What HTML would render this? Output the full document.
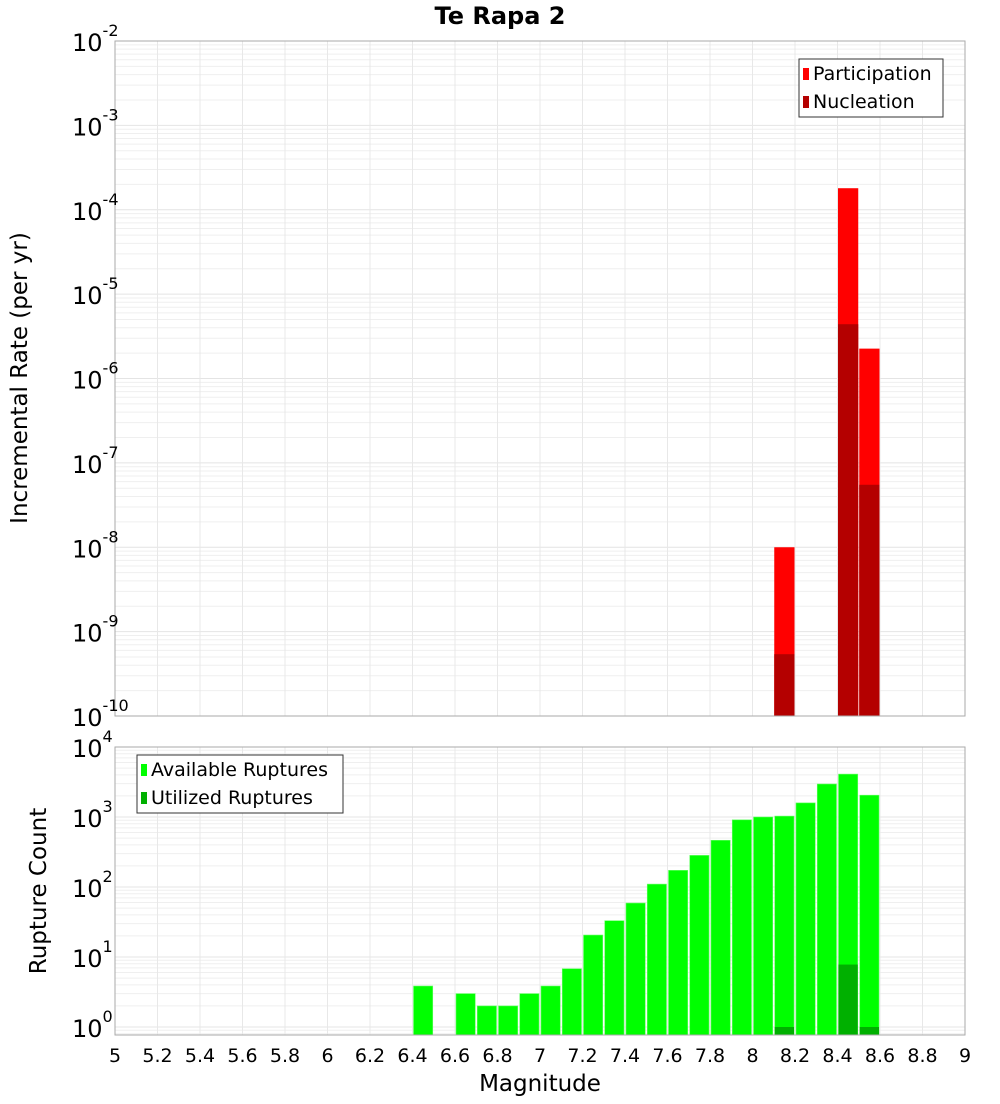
<!DOCTYPE html>
<html><head><meta charset="utf-8"><style>
body{margin:0;background:#fff;font-family:"DejaVu Sans","Liberation Sans",sans-serif}
svg text{font-family:"DejaVu Sans","Liberation Sans",sans-serif}
</style></head><body>
<svg id="c" width="1000" height="1100" xmlns="http://www.w3.org/2000/svg"></svg>
<script>
const binCenters=[8.15,8.45,8.55];
const participation=[1e-8,1.8e-4,2.26e-6];
const nucleation=[5.4e-10,4.4e-6,5.5e-8];
const countBins=[6.45,6.65,6.75,6.85,6.95,7.05,7.15,7.25,7.35,7.45,7.55,7.65,7.75,7.85,7.95,8.05,8.15,8.25,8.35,8.45,8.55];
const available=[3.85,3,2,2,3,3.85,6.8,20.6,33,59,110,173,283,465,911,1000,1030,1590,2960,4100,2050];
const utilBins=[8.15,8.45,8.55];
const utilized=[1,7.8,1];
const xTicks=[5,5.2,5.4,5.6,5.8,6,6.2,6.4,6.6,6.8,7,7.2,7.4,7.6,7.8,8,8.2,8.4,8.6,8.8,9];
const topExp=[-2,-3,-4,-5,-6,-7,-8,-9,-10];
const botExp=[0,1,2,3,4];

const S=document.getElementById('c'),NS='http://www.w3.org/2000/svg';
function el(t,a,p){const e=document.createElementNS(NS,t);for(const k in a)e.setAttribute(k,a[k]);(p||S).appendChild(e);return e;}
const L=115,R=965;
const X=m=>L+(m-5)/4*(R-L);
const T0=41,T1=716,yT=v=>T0+(-2-Math.log10(v))*(T1-T0)/8;
const B0=747,B1=1035,yB=v=>1027-Math.log10(v)*70;
const bw=(R-L)/40;

function grid(top,bot,yf,lo,hi,name){
  const g=el('g',{});
  for(let e=lo;e<hi;e++)for(let k=1;k<10;k++){const y=yf(k*Math.pow(10,e));if(y>=top-0.5&&y<=bot)el('line',{x1:L,x2:R,y1:y,y2:y,stroke:k==1?'#e4e4e4':'#efefef','stroke-width':1},g);}
  xTicks.forEach(t=>{const x=X(t);el('line',{x1:x,x2:x,y1:top,y2:bot,stroke:'#e8e8e8'},g);});
}
grid(T0,T1,yT,-10,-1,'top-grid');
grid(B0,B1,yB,-1,4,'bottom-grid');

binCenters.forEach((m,i)=>{
  let r=el('rect',{x:X(m)-bw/2+0.5,y:yT(participation[i]),width:bw-1,height:T1-yT(participation[i]),fill:'#ff0000'});
  
  r=el('rect',{x:X(m)-bw/2+0.5,y:yT(nucleation[i]),width:bw-1,height:T1-yT(nucleation[i]),fill:'#b40000'});
  
});
countBins.forEach((m,i)=>{
  const y=yB(available[i]);
  const r=el('rect',{x:X(m)-bw/2+1,y:y,width:bw-2,height:B1-y,fill:'#00ff00',stroke:'#66ff66','stroke-width':0.6});
  
});
utilBins.forEach((m,i)=>{
  const y=yB(utilized[i]);
  const r=el('rect',{x:X(m)-bw/2+1,y:y,width:bw-2,height:B1-y,fill:'#00b000'});
  
});
let f=el('rect',{x:L,y:T0,width:R-L,height:T1-T0,fill:'none',stroke:'#aaa'});
f=el('rect',{x:L,y:B0,width:R-L,height:B1-B0,fill:'none',stroke:'#aaa'});

function ylab(e,y,name){
  const t=el('text',{x:72,y:y+10,'text-anchor':'start','font-size':24,fill:'#000'});
  
  t.textContent='10';
  const s=el('tspan',{dy:-15,'font-size':16});s.textContent=String(e);t.appendChild(s);
}
topExp.forEach(e=>ylab(e,yT(Math.pow(10,e)),'top-y-tick'));
botExp.forEach(e=>ylab(e,yB(Math.pow(10,e)),'bottom-y-tick'));
xTicks.forEach(t=>{const x=el('text',{x:X(t),y:1062,'text-anchor':'middle','font-size':19});x.textContent=String(t);});

function txt(s,a,name){const t=el('text',a);t.textContent=s;return t;}
txt('Te Rapa 2',{x:500,y:24,'text-anchor':'middle','font-size':24,'font-weight':'bold'},'chart-title');
txt('Magnitude',{x:540,y:1091,'text-anchor':'middle','font-size':23},'x-axis-title');
txt('Incremental Rate (per yr)',{x:0,y:0,'text-anchor':'middle','font-size':23,transform:'translate(27,378) rotate(-90)'},'top-y-axis-title');
txt('Rupture Count',{x:0,y:0,'text-anchor':'middle','font-size':23,transform:'translate(46,891) rotate(-90)'},'bottom-y-axis-title');

function legend(x,y,w,items,name){
  const g=el('g',{});
  el('rect',{x:x,y:y,width:w,height:58,fill:'#fff',stroke:'#333'},g);
  items.forEach((it,i)=>{
    el('rect',{x:x+4,y:y+9+i*28,width:6,height:12,fill:it[1]},g);
    const t=el('text',{x:x+14,y:y+21+i*28,'font-size':19},g);t.textContent=it[0];
  });
}
legend(799,59,144,[['Participation','#ff0000'],['Nucleation','#b40000']],'top-legend');
legend(137,755,206,[['Available Ruptures','#00ff00'],['Utilized Ruptures','#00b000']],'bottom-legend');
</script>
</body></html>
